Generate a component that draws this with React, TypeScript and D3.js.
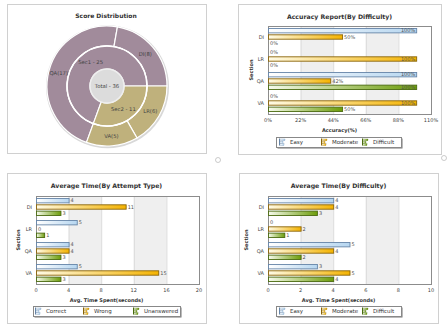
import React from 'react';
import * as d3 from 'd3';

const FONT = "'DejaVu Sans', Verdana, sans-serif";

// ---- Panel 1: Score Distribution ----
const outerLabels = ['QA', 'DI', 'LR', 'VA'];
const outerValues = [17, 8, 6, 5];
const outerGroup = [0, 0, 1, 1];
const innerLabels = ['Sec1', 'Sec2'];
const innerValues = [25, 11];
const totalValue = 36;

// ---- Shared ----
const sections = ['DI', 'LR', 'QA', 'VA'];
const difficultySeries = ['Easy', 'Moderate', 'Difficult'];
const attemptSeries = ['Correct', 'Wrong', 'Unanswered'];

// ---- Panel 2: Accuracy ----
const accEasy = [100, 0, 100, 0];
const accModerate = [50, 100, 42, 100];
const accDifficult = [0, 0, 100, 50];
const accTicks = [0, 22, 44, 66, 88, 110];

// ---- Panel 3: Avg time by attempt type ----
const timeCorrect = [4, 5, 4, 5];
const timeWrong = [11, 0, 4, 15];
const timeUnanswered = [3, 1, 3, 3];
const attemptTicks = [0, 4, 8, 12, 16, 20];

// ---- Panel 4: Avg time by difficulty ----
const dtEasy = [4, 0, 5, 3];
const dtModerate = [4, 2, 4, 5];
const dtDifficult = [3, 1, 2, 4];
const dtTicks = [0, 2, 4, 6, 8, 10];

const SERIES_STYLE = [
  { id: 'g0', from: '#ffffff', to: '#b6d6f0', stroke: '#6685a8' },
  { id: 'g1', from: '#fffbe6', to: '#f4b300', stroke: '#8a6408' },
  { id: 'g2', from: '#f6faec', to: '#6c9c0a', stroke: '#4a6a10' },
];

const MAUVE = '#a18b9b';
const GOLD = '#bfb17c';

function Donut() {
  const cx = 107, cy = 86;
  const start = (200 * Math.PI) / 180;
  const pie = d3.pie<number>().sort(null).startAngle(start).endAngle(start + 2 * Math.PI);
  const innerArcs = pie(innerValues);
  const outerArcs = pie(outerValues);
  const arcIn = d3.arc<any>().innerRadius(17).outerRadius(40);
  const arcOut = d3.arc<any>().innerRadius(40).outerRadius(60);
  const labIn = d3.arc<any>().innerRadius(28.5).outerRadius(28.5);
  const labOut = d3.arc<any>().innerRadius(50).outerRadius(50);
  const groupColors = [MAUVE, GOLD];
  return (
    <g>
      <rect x={7.5} y={4.5} width={199} height={149} fill="#fff" stroke="#d0d0d0" />
      <text x={106} y={18} textAnchor="middle" fontFamily={FONT} fontSize={6} fontWeight="bold" fill="#333">Score Distribution</text>
      <g transform={`translate(${cx},${cy})`}>
        <circle r={61.5} cx={0.5} cy={0.8} fill="#d8d8d8" />
        {outerArcs.map((a, i) => (
          <path key={'o' + i} d={arcOut(a) as string} fill={groupColors[outerGroup[i]]} stroke="#fff" strokeWidth={1.2} />
        ))}
        {innerArcs.map((a, i) => (
          <path key={'i' + i} d={arcIn(a) as string} fill={groupColors[i]} stroke="#fff" strokeWidth={1.2} />
        ))}
        <circle r={40} fill="none" stroke="#fff" strokeWidth={1.5} />
        <circle r={17} fill="#dcdcdc" stroke="#eeeeee" strokeWidth={1.5} />
        {outerArcs.map((a, i) => {
          const [x, y] = labOut.centroid(a);
          return (
            <text key={'ol' + i} x={x} y={y + 1.8} textAnchor="middle" fontFamily={FONT} fontSize={5.3} fill="#444">
              {`${outerLabels[i]}(${outerValues[i]})`}
            </text>
          );
        })}
        {innerArcs.map((a, i) => {
          const [x, y] = labIn.centroid(a);
          return (
            <text key={'il' + i} x={x} y={y + 1.8} textAnchor="middle" fontFamily={FONT} fontSize={5.3} fill="#444">
              {`${innerLabels[i]} - ${innerValues[i]}`}
            </text>
          );
        })}
        <text x={0} y={1.8} textAnchor="middle" fontFamily={FONT} fontSize={5.3} fill="#444">{`Total - ${totalValue}`}</text>
      </g>
    </g>
  );
}

type BarProps = {
  panel: { x: number; y: number; w: number; h: number };
  title: string;
  titleY: number;
  plot: { x0: number; x1: number; y0: number; y1: number };
  ticks: number[];
  fmt: (v: number) => string;
  values: number[][];
  series: string[];
  axisTitle: string;
  sectionX: number;
  legend: { x: number; y: number; w: number; offs: number[] };
};

function LegendIcon({ x, y, s }: { x: number; y: number; s: typeof SERIES_STYLE[0] }) {
  return (
    <g>
      <rect x={x} y={y - 3.5} width={1} height={7} fill={s.stroke} />
      <rect x={x + 1} y={y - 3} width={5} height={1.8} fill={`url(#${s.id})`} stroke={s.stroke} strokeWidth={0.3} />
      <rect x={x + 1} y={y - 0.6} width={3} height={1.8} fill={`url(#${s.id})`} stroke={s.stroke} strokeWidth={0.3} />
      <rect x={x + 1} y={y + 1.8} width={4} height={1.8} fill={`url(#${s.id})`} stroke={s.stroke} strokeWidth={0.3} />
    </g>
  );
}

function BarPanel(p: BarProps) {
  const { panel, plot, ticks } = p;
  const x = d3.scaleLinear().domain([0, ticks[ticks.length - 1]]).range([plot.x0, plot.x1]);
  const y = d3.scaleBand().domain(sections).range([plot.y0, plot.y1]);
  const groupH = 18;
  const inner = d3.scaleBand().domain(p.series).range([0, groupH]).paddingInner(0.15);
  const off = (y.bandwidth() - groupH) / 2;
  const bands: [number, number][] = [];
  for (let i = 1; i + 1 < ticks.length; i += 2) bands.push([ticks[i], ticks[i + 1]]);
  const lcy = p.legend.y + 5;
  return (
    <g>
      <rect x={panel.x + 0.5} y={panel.y + 0.5} width={panel.w} height={panel.h} fill="#fff" stroke="#d0d0d0" />
      <text x={panel.x + panel.w / 2} y={p.titleY} textAnchor="middle" fontFamily={FONT} fontSize={6.2} fontWeight="bold" fill="#333">{p.title}</text>
      {bands.map((b, i) => (
        <rect key={'b' + i} x={x(b[0])} y={plot.y0} width={x(b[1]) - x(b[0])} height={plot.y1 - plot.y0} fill="#efefef" />
      ))}
      {ticks.map((t, i) => (
        <line key={'gl' + i} x1={x(t) + 0.5} x2={x(t) + 0.5} y1={plot.y0} y2={plot.y1} stroke="#dadada" />
      ))}
      <rect x={plot.x0 + 0.5} y={plot.y0 + 0.5} width={plot.x1 - plot.x0} height={plot.y1 - plot.y0} fill="none" stroke="#8c8c8c" />
      {sections.map((sec, ci) => (
        <g key={sec}>
          <text x={plot.x0 - 4} y={(y(sec) as number) + y.bandwidth() / 2 + 1.8} textAnchor="end" fontFamily={FONT} fontSize={5} fill="#444">{sec}</text>
          {p.series.map((s, si) => {
            const v = p.values[si][ci];
            const by = (y(sec) as number) + off + (inner(s) as number);
            const bh = inner.bandwidth();
            const bx = x(0);
            const bw = x(v) - x(0);
            const st = SERIES_STYLE[si];
            const label = p.fmt(v);
            const tw = label.length * 3.3;
            const inside = x(v) + 2 + tw > plot.x1;
            return (
              <g key={s}>
                {v > 0 && (
                  <rect x={bx + 0.5} y={by + 0.5} width={bw} height={bh - 1} fill={`url(#${st.id})`} stroke={st.stroke} strokeWidth={0.9} />
                )}
                <text
                  x={inside ? x(v) - 1 : x(v) + 2}
                  y={by + bh / 2 + 1.8}
                  textAnchor={inside ? 'end' : 'start'}
                  fontFamily={FONT}
                  fontSize={5}
                  fill="#555"
                >
                  {label}
                </text>
              </g>
            );
          })}
        </g>
      ))}
      {ticks.map((t, i) => (
        <text key={'tl' + i} x={x(t)} y={plot.y1 + 8} textAnchor="middle" fontFamily={FONT} fontSize={5} fill="#444">{p.fmt(t)}</text>
      ))}
      <text transform={`translate(${p.sectionX},${(plot.y0 + plot.y1) / 2}) rotate(-90)`} textAnchor="middle" fontFamily={FONT} fontSize={5} fontWeight="bold" fill="#333">Section</text>
      <text x={panel.x + panel.w / 2} y={plot.y1 + 18} textAnchor="middle" fontFamily={FONT} fontSize={5} fontWeight="bold" fill="#333">{p.axisTitle}</text>
      <rect x={p.legend.x + 1.5} y={p.legend.y + 1.5} width={p.legend.w} height={10} fill="#777" />
      <rect x={p.legend.x + 0.5} y={p.legend.y + 0.5} width={p.legend.w} height={10} fill="#fff" stroke="#888" />
      {p.series.map((s, si) => (
        <g key={'lg' + si}>
          <LegendIcon x={p.legend.x + p.legend.offs[si]} y={lcy} s={SERIES_STYLE[si]} />
          <text x={p.legend.x + p.legend.offs[si] + 11} y={lcy + 2} fontFamily={FONT} fontSize={5.5} fill="#333">{s}</text>
        </g>
      ))}
    </g>
  );
}

export default function App() {
  return (
    <svg width={447} height={325} style={{ position: 'fixed', left: 0, top: 0, background: '#fff' }}>
      <defs>
        {SERIES_STYLE.map((s) => (
          <linearGradient key={s.id} id={s.id} x1="0" x2="1" y1="0" y2="0">
            <stop offset="0" stopColor={s.from} />
            <stop offset="1" stopColor={s.to} />
          </linearGradient>
        ))}
      </defs>
      <rect width={447} height={325} fill="#fff" />
      <Donut />
      <BarPanel
        panel={{ x: 238, y: 4, w: 203, h: 150 }}
        title="Accuracy Report(By Difficulty)"
        titleY={19}
        plot={{ x0: 268, x1: 431, y0: 26, y1: 114 }}
        ticks={accTicks}
        fmt={(v) => `${v}%`}
        values={[accEasy, accModerate, accDifficult]}
        series={difficultySeries}
        axisTitle="Accuracy(%)"
        sectionX={253}
        legend={{ x: 276, y: 137, w: 125, offs: [3, 45, 86] }}
      />
      <BarPanel
        panel={{ x: 7, y: 173, w: 199, h: 150 }}
        title="Average Time(By Attempt Type)"
        titleY={188}
        plot={{ x0: 36, x1: 199, y0: 196, y1: 284 }}
        ticks={attemptTicks}
        fmt={(v) => `${v}`}
        values={[timeCorrect, timeWrong, timeUnanswered]}
        series={attemptSeries}
        axisTitle="Avg. Time Spent(seconds)"
        sectionX={20}
        legend={{ x: 33, y: 306, w: 147, offs: [2, 50, 100] }}
      />
      <BarPanel
        panel={{ x: 239, y: 173, w: 199, h: 150 }}
        title="Average Time(By Difficulty)"
        titleY={188}
        plot={{ x0: 268, x1: 431, y0: 196, y1: 284 }}
        ticks={dtTicks}
        fmt={(v) => `${v}`}
        values={[dtEasy, dtModerate, dtDifficult]}
        series={difficultySeries}
        axisTitle="Avg. Time Spent(seconds)"
        sectionX={248}
        legend={{ x: 276, y: 306, w: 125, offs: [3, 45, 86] }}
      />
      <circle cx={218} cy={160} r={2.5} fill="#fff" stroke="#aaa" strokeWidth={0.6} />
      <circle cx={444} cy={158} r={2.5} fill="#fff" stroke="#aaa" strokeWidth={0.6} />
    </svg>
  );
}
